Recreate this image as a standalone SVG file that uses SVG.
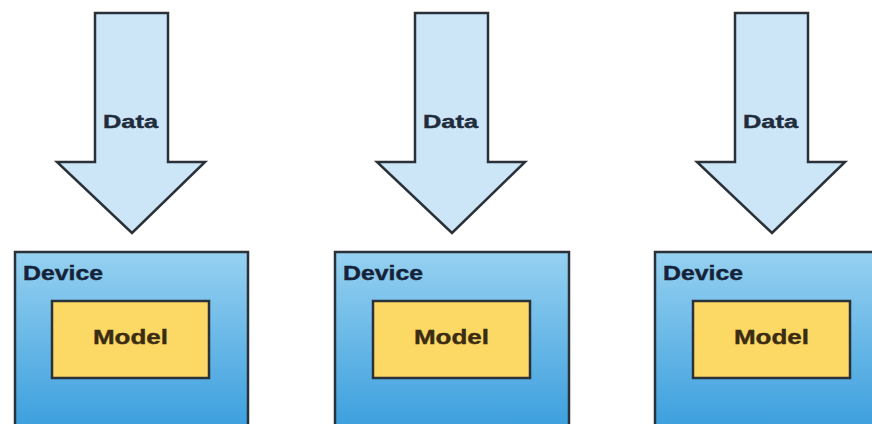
<svg xmlns="http://www.w3.org/2000/svg" width="872" height="424" viewBox="0 0 872 424">
  <style>
    .arrow { fill: #cce6f8; stroke: #2b3139; stroke-width: 2.5; stroke-linejoin: miter; }
    .device { fill: url(#devGrad); stroke: #2b3139; stroke-width: 2.5; }
    .model { fill: #fcd865; stroke: #2b3139; stroke-width: 2.5; }
    .lbl { font-family: "Liberation Sans", Arial, sans-serif; font-weight: bold; stroke-width: 0.4; }
    .data { font-size: 18px; fill: #1f2d3d; stroke: #1f2d3d; }
    .dev { font-size: 20px; fill: #15233a; stroke: #15233a; }
    .mod { font-size: 21px; fill: #3a2c12; stroke: #3a2c12; }
  </style>
  <defs>
    <linearGradient id="devGrad" x1="0" y1="0" x2="0" y2="1">
      <stop offset="0" stop-color="#96d1f1"/>
      <stop offset="1" stop-color="#3a9edd"/>
    </linearGradient>
    <path id="blockArrow" d="M-37,13 H36 V162 H73 L0,233 L-75,162 H-37 Z"/>
  </defs>
  <rect width="872" height="424" fill="#ffffff"/>

  <!-- data flow arrows -->
  <g id="connectors">
    <g id="arrow1" transform="translate(132,0)">
      <use href="#blockArrow" class="arrow"/>
      <text class="lbl data" x="-29" y="128" textLength="55" lengthAdjust="spacingAndGlyphs">Data</text>
    </g>
    <g id="arrow2" transform="translate(452,0)">
      <use href="#blockArrow" class="arrow"/>
      <text class="lbl data" x="-29" y="128" textLength="55" lengthAdjust="spacingAndGlyphs">Data</text>
    </g>
    <g id="arrow3" transform="translate(772,0)">
      <use href="#blockArrow" class="arrow"/>
      <text class="lbl data" x="-29" y="128" textLength="55" lengthAdjust="spacingAndGlyphs">Data</text>
    </g>
  </g>

  <!-- devices, each holding a model -->
  <g id="device1">
    <rect class="device" x="15" y="252" width="233" height="180"/>
    <text class="lbl dev" x="23" y="280" textLength="80" lengthAdjust="spacingAndGlyphs">Device</text>
    <g id="model1">
      <rect class="model" x="52" y="301" width="157" height="77"/>
      <text class="lbl mod" x="93" y="344" textLength="75" lengthAdjust="spacingAndGlyphs">Model</text>
    </g>
  </g>
  <g id="device2">
    <rect class="device" x="335" y="252" width="234" height="180"/>
    <text class="lbl dev" x="343" y="280" textLength="80" lengthAdjust="spacingAndGlyphs">Device</text>
    <g id="model2">
      <rect class="model" x="373" y="301" width="157" height="77"/>
      <text class="lbl mod" x="414" y="344" textLength="75" lengthAdjust="spacingAndGlyphs">Model</text>
    </g>
  </g>
  <g id="device3">
    <rect class="device" x="655" y="252" width="234" height="180"/>
    <text class="lbl dev" x="663" y="280" textLength="80" lengthAdjust="spacingAndGlyphs">Device</text>
    <g id="model3">
      <rect class="model" x="693" y="301" width="157" height="77"/>
      <text class="lbl mod" x="734" y="344" textLength="75" lengthAdjust="spacingAndGlyphs">Model</text>
    </g>
  </g>
</svg>
